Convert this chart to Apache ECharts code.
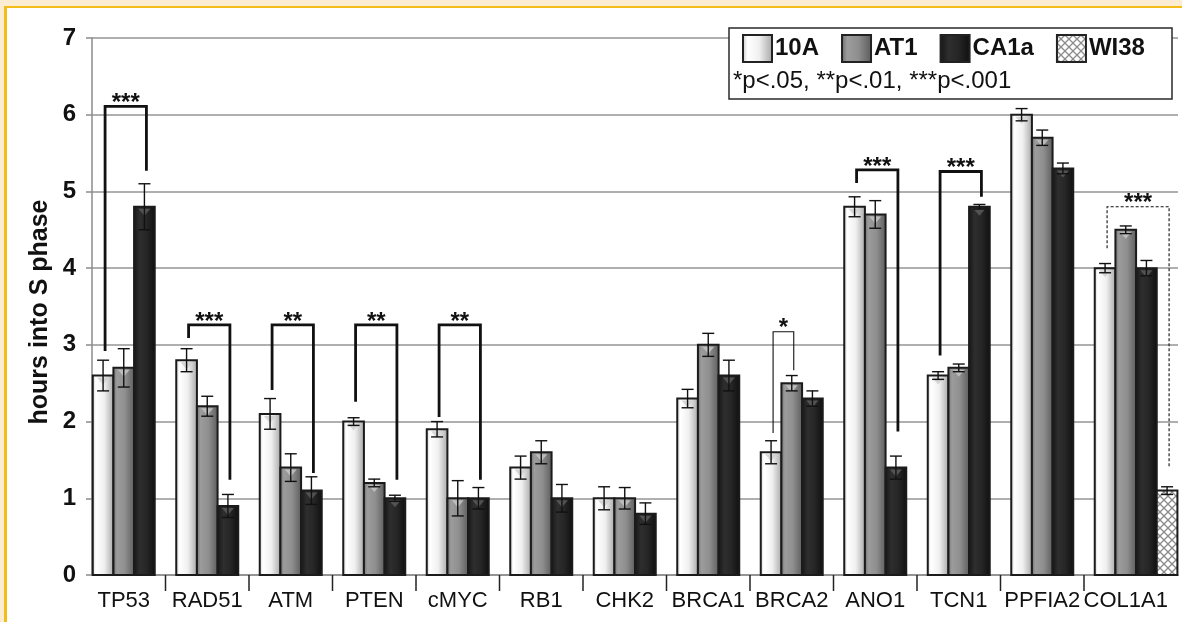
<!DOCTYPE html>
<html>
<head>
<meta charset="utf-8">
<script src="https://cdn.jsdelivr.net/npm/echarts@6/dist/echarts.min.js"></script>
<style>
  html, body { margin: 0; padding: 0; width: 1182px; height: 622px; overflow: hidden; background: #fbecd2; }
  #frame { position: absolute; left: 4px; top: 6px; right: 0; bottom: 0; background: #fff;
           border-left: 3px solid #f2bd1b; border-top: 2.5px solid #f2bd1b; }
  #chart { position: absolute; left: 0; top: 0; width: 1182px; height: 622px; }
</style>
</head>
<body>
<div id="frame"></div>
<div id="chart"></div>
<script>
// Genes measured (x categories)
const genes = ['TP53', 'RAD51', 'ATM', 'PTEN', 'cMYC', 'RB1', 'CHK2', 'BRCA1', 'BRCA2', 'ANO1', 'TCN1', 'PPFIA2', 'COL1A1'];

// Replication timing, hours into S phase, with error bars
const val10A  = [2.6, 2.8, 2.1, 2.0, 1.9, 1.4, 1.0, 2.3, 1.6, 4.8, 2.6, 6.0, 4.0];
const err10A  = [0.2, 0.15, 0.2, 0.05, 0.1, 0.15, 0.15, 0.12, 0.15, 0.13, 0.05, 0.08, 0.06];
const valAT1  = [2.7, 2.2, 1.4, 1.2, 1.0, 1.6, 1.0, 3.0, 2.5, 4.7, 2.7, 5.7, 4.5];
const errAT1  = [0.25, 0.13, 0.18, 0.05, 0.23, 0.15, 0.14, 0.15, 0.1, 0.18, 0.05, 0.1, 0.05];
const valCA1a = [4.8, 0.9, 1.1, 1.0, 1.0, 1.0, 0.8, 2.6, 2.3, 1.4, 4.8, 5.3, 4.0];
const errCA1a = [0.3, 0.15, 0.18, 0.04, 0.14, 0.18, 0.14, 0.2, 0.1, 0.15, 0.03, 0.07, 0.1];
const catWI38 = ['COL1A1'];
const valWI38 = [1.1];
const errWI38 = [0.05];

// Y axis ticks
const yTicks = [0, 1, 2, 3, 4, 5, 6, 7];

// Significance brackets: gene, the two groups compared (0=10A,1=AT1,2=CA1a,3=WI38),
// bracket top, lower ends of left/right legs, star label, line style
const sigGene   = ['TP53', 'RAD51', 'ATM', 'PTEN', 'cMYC', 'BRCA2', 'ANO1', 'TCN1', 'COL1A1'];
const sigFrom   = [0, 0, 0, 0, 0, 0, 0, 0, 0];
const sigTo     = [2, 2, 2, 2, 2, 1, 2, 2, 3];
const sigTop    = [6.11, 3.26, 3.26, 3.26, 3.26, 3.17, 5.28, 5.26, 4.80];
const sigLeftLo = [2.92, 3.09, 2.41, 2.26, 2.06, 1.85, 5.11, 2.86, 4.26];
const sigRightLo= [5.27, 1.24, 1.33, 1.24, 1.24, 2.67, 1.87, 4.93, 1.39];
const sigLabel  = ['***', '***', '**', '**', '**', '*', '***', '***', '***'];
const sigStyle  = ['bold', 'bold', 'bold', 'bold', 'bold', 'thin', 'bold', 'bold', 'dashed'];

const FONT = '"Liberation Sans", Arial, sans-serif';
const BAR_FRAC = 0.2475;   // bar width as a share of one category band

function hGrad(stops) {
  return new echarts.graphic.LinearGradient(0, 0, 1, 0, stops.map(c => ({ offset: c[0], color: c[1] })));
}
const fill10A  = hGrad([[0, '#c4c4c4'], [0.18, '#ffffff'], [0.55, '#f0f0f0'], [1, '#a4a4a4']]);
const fillAT1  = hGrad([[0, '#6a6a6a'], [0.2, '#9c9c9c'], [0.55, '#8f8f8f'], [1, '#5a5a5a']]);
const fillCA1a = hGrad([[0, '#151515'], [0.3, '#2e2e2e'], [0.6, '#262626'], [1, '#0e0e0e']]);

// Cross-hatch tile for the WI38 bar
const tile = document.createElement('canvas');
tile.width = 8; tile.height = 8;
(function () {
  const c = tile.getContext('2d');
  c.fillStyle = '#ffffff'; c.fillRect(0, 0, 8, 8);
  c.strokeStyle = '#8a8a8a'; c.lineWidth = 1.3;
  c.beginPath(); c.moveTo(0, 0); c.lineTo(8, 8); c.moveTo(8, 0); c.lineTo(0, 8); c.stroke();
})();
const fillWI38 = { image: tile, repeat: 'repeat' };

const groups = [
  { name: '10A',  fill: fill10A,  slot: -1, vals: val10A,  errs: err10A,  cats: genes,   bevel: '#d0d0d0' },
  { name: 'AT1',  fill: fillAT1,  slot: 0,  vals: valAT1,  errs: errAT1,  cats: genes,   bevel: '#c4c4c4' },
  { name: 'CA1a', fill: fillCA1a, slot: 1,  vals: valCA1a, errs: errCA1a, cats: genes,   bevel: '#5a5a5a' },
  { name: 'WI38', fill: fillWI38, slot: 2,  vals: valWI38, errs: errWI38, cats: catWI38, bevel: null }
];

function barRenderer(g) {
  return function (params, api) {
    const cat = api.value(0), v = api.value(1), e = api.value(2);
    const base = api.coord([cat, 0]);
    const top = api.coord([cat, v]);
    const band = api.size([1, 0])[0];
    const w = band * BAR_FRAC;
    const cx = base[0] + g.slot * w;
    const hi = api.coord([cat, v + e])[1];
    const lo = api.coord([cat, v - e])[1];
    const cap = 6;
    const kids = [{
      type: 'rect',
      shape: { x: cx - w / 2, y: top[1], width: w, height: base[1] - top[1] },
      style: { fill: g.fill, stroke: '#1b1b1b', lineWidth: 2 }
    }];
    if (g.bevel) {
      kids.push({
        type: 'polygon',
        shape: { points: [[cx - 6, top[1] + 2], [cx + 6, top[1] + 2], [cx, top[1] + 9]] },
        style: { fill: g.bevel, opacity: 0.85 }
      });
    }
    const stroke = { stroke: '#111', lineWidth: 1.4, fill: null };
    kids.push(
      { type: 'polyline', shape: { points: [[cx - cap, hi], [cx + cap, hi]] }, style: stroke },
      { type: 'polyline', shape: { points: [[cx - cap, lo], [cx + cap, lo]] }, style: stroke },
      { type: 'polyline', shape: { points: [[cx, hi], [cx, lo]] }, style: stroke }
    );
    return { type: 'group', children: kids };
  };
}

const barSeries = groups.map(g => ({
  type: 'custom',
  name: g.name,
  xAxisIndex: 1, yAxisIndex: 1,
  z: 3,
  itemStyle: { color: g.fill, borderColor: '#222', borderWidth: 1.5 },
  encode: { x: 0, y: 1 },
  data: g.cats.map((c, i) => [genes.indexOf(c), g.vals[i], g.errs[i]]),
  renderItem: barRenderer(g)
}));

// Separator ticks between gene groups, below the axis
const sepSeries = {
  type: 'custom',
  xAxisIndex: 1, yAxisIndex: 1,
  z: 2, silent: true,
  encode: { x: 0, y: 1 },
  data: genes.slice(1).map((g, i) => [i + 1, 0]),
  renderItem: function (params, api) {
    const p = api.coord([api.value(0), 0]);
    const band = api.size([1, 0])[0];
    const x = p[0] - band / 2;
    return { type: 'line', shape: { x1: x, y1: p[1], x2: x, y2: p[1] + 16 },
             style: { stroke: '#222', lineWidth: 1.5 } };
  }
};

// Significance brackets
const sigSeries = {
  type: 'custom',
  xAxisIndex: 1, yAxisIndex: 1,
  z: 6, silent: true,
  encode: { x: 0, y: 1 },
  data: sigGene.map((g, i) => [genes.indexOf(g), sigTop[i], i]),
  renderItem: function (params, api) {
    const i = api.value(2);
    const cat = api.value(0);
    const band = api.size([1, 0])[0];
    const w = band * BAR_FRAC;
    const c0 = api.coord([cat, 0])[0];
    const xl = c0 + groups[sigFrom[i]].slot * w + 2;
    const xr = c0 + groups[sigTo[i]].slot * w + 2;
    const yt = api.coord([cat, sigTop[i]])[1];
    const yl = api.coord([cat, sigLeftLo[i]])[1];
    const yr = api.coord([cat, sigRightLo[i]])[1];
    const st = sigStyle[i];
    const lw = st === 'bold' ? 2.8 : 1.1;
    return {
      type: 'group',
      children: [{
        type: 'polyline',
        shape: { points: [[xl, yl], [xl, yt], [xr, yt], [xr, yr]] },
        style: { stroke: '#111', lineWidth: lw, fill: null, lineDash: st === 'dashed' ? [3, 2] : null }
      }, {
        type: 'text',
        x: (xl + xr) / 2, y: yt - 3,
        style: { text: sigLabel[i], fill: '#111', font: 'bold 24px ' + FONT, align: 'center', verticalAlign: 'middle' }
      }]
    };
  }
};

const chart = echarts.init(document.getElementById('chart'), null, { renderer: 'canvas' });
chart.setOption({
  animation: false,
  backgroundColor: 'transparent',
  textStyle: { fontFamily: FONT },
  grid: [
    { left: 92, right: 4, top: 38, bottom: 47 },
    { left: 82, right: 14.5, top: 38, bottom: 47 }
  ],
  xAxis: [
    { gridIndex: 0, type: 'value', min: 0, max: 1,
      axisLine: { show: true, lineStyle: { color: '#8c8c8c', width: 1.5 } },
      axisTick: { show: false }, axisLabel: { show: false }, splitLine: { show: false } },
    { gridIndex: 1, type: 'category', data: genes,
      axisLine: { show: false }, axisTick: { show: false },
      axisLabel: { color: '#111', fontSize: 22, fontFamily: FONT, margin: 15, interval: 0 } }
  ],
  yAxis: [
    { gridIndex: 0, type: 'value', min: yTicks[0], max: yTicks[yTicks.length - 1], interval: 1,
      axisLine: { show: true, lineStyle: { color: '#8c8c8c', width: 1.5 } },
      axisTick: { show: true, length: 6, lineStyle: { color: '#8c8c8c', width: 1.5 } },
      axisLabel: { color: '#111', fontSize: 24, fontWeight: 'bold', fontFamily: FONT, margin: 16 },
      splitLine: { show: true, lineStyle: { color: '#959595', width: 1.5 } } },
    { gridIndex: 1, type: 'value', min: 0, max: 7, show: false }
  ],
  legend: {
    data: groups.map(g => g.name),
    left: 737, top: 29,
    itemWidth: 29, itemHeight: 27, itemGap: 22,
    icon: 'rect',
    z: 20,
    textStyle: { color: '#111', fontSize: 24, fontWeight: 'bold', fontFamily: FONT, padding: [0, 0, 0, -2] }
  },
  graphic: [
    { type: 'rect', z: 15, shape: { x: 729, y: 28, width: 443, height: 71 },
      style: { fill: '#fff', stroke: '#2a2a2a', lineWidth: 1.5 } },
    { type: 'text', z: 16, x: 733, y: 81,
      style: { text: '*p<.05, **p<.01, ***p<.001', fill: '#111', font: '24px ' + FONT, verticalAlign: 'middle' } },
    { type: 'text', z: 16, x: 40, y: 312, rotation: Math.PI / 2,
      style: { text: 'hours into S phase', fill: '#111', font: 'bold 25px ' + FONT, align: 'center', verticalAlign: 'middle' } }
  ],
  series: [sepSeries, ...barSeries, sigSeries]
});
</script>
</body>
</html>
